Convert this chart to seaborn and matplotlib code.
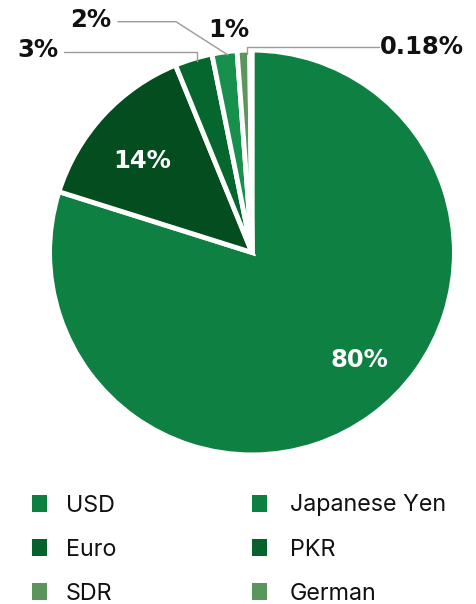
import matplotlib
matplotlib.use("Agg")
import matplotlib.pyplot as plt
import seaborn as sns
from matplotlib.patches import Rectangle

# ---- data ----
categories = ["USD", "Euro", "PKR", "Japanese Yen", "SDR", "German"]
shares = [80, 14, 3, 2, 1, 0.18]
pct_labels = ["80%", "14%", "3%", "2%", "1%", "0.18%"]
pie_colors = ["#0e8042", "#044d1f", "#05672e", "#17904e", "#5b975d", "#5b975d"]
legend_colors = ["#0d7f41", "#05622d", "#05622d", "#0d7f41", "#5a955b", "#5a955b"]
legend_order = ["USD", "Euro", "SDR", "Japanese Yen", "PKR", "German"]

sns.set_theme(style="white")
plt.rcParams['font.family'] = ['DejaVu Sans']

W, H = 476, 604
fig = plt.figure(figsize=(W / 100, H / 100), dpi=100)
fig.patch.set_facecolor("white")
cx, cy, R = 252, 252.5, 200  # pixel geometry of the pie


def to_fig(x, y):
    return x / W, (H - y) / H


ax = fig.add_axes([(cx - R) / W, (H - cy - R) / H, 2 * R / W, 2 * R / H])
wedges, _ = ax.pie(shares, colors=pie_colors, startangle=90, counterclock=False,
                   radius=1.012,
                   wedgeprops=dict(edgecolor="white", linewidth=3.5))
for w in wedges:
    w.set_clip_on(False)
ax.set_xlim(-1, 1)
ax.set_ylim(-1, 1)
ax.set_aspect("equal")
ax.axis("off")

# ---- percentage labels (pixel positions of baselines) ----
label_style = {
    "80%": dict(pos=(359, 367), color="white"),
    "14%": dict(pos=(142, 168), color="white"),
    "3%": dict(pos=(38, 57), color="#111111"),
    "2%": dict(pos=(91, 27), color="#111111"),
    "1%": dict(pos=(229, 37), color="#111111"),
    "0.18%": dict(pos=(422, 54), color="#111111"),
}
for lab in pct_labels:
    st = label_style[lab]
    fx, fy = to_fig(*st["pos"])
    fig.text(fx, fy, lab, ha="center", va="baseline", fontsize=17.5,
             fontweight="bold", color=st["color"])

# ---- leader lines ----
leaders = [
    [(64, 51.7), (197, 51.7), (197, 61)],
    [(118, 21.7), (176, 21.7), (228, 55)],
    [(379, 47), (247, 47), (247, 54)],
]
for pts in leaders:
    xs = [to_fig(*p)[0] for p in pts]
    ys = [to_fig(*p)[1] for p in pts]
    fig.add_artist(plt.Line2D(xs, ys, color="#9a9a9a", lw=1.0,
                              transform=fig.transFigure))

# ---- legend ----
col_x = [32, 252]
text_x = [66, 290]
row_y = [503, 547, 591]
for i, name in enumerate(legend_order):
    col, row = i // 3, i % 3
    color = legend_colors[categories.index(name)]
    x0, y0 = to_fig(col_x[col], row_y[row] + 8.5)
    fig.add_artist(Rectangle((x0, y0), 15 / W, 17 / H, facecolor=color,
                             edgecolor="none", transform=fig.transFigure))
    tx, ty = to_fig(text_x[col], row_y[row] + 8.5)
    fig.text(tx, ty, name, ha="left", va="baseline", fontsize=16.8,
             family=["Inter", "DejaVu Sans"], color="#111111")

fig.savefig("out.png", dpi=100, facecolor="white")
